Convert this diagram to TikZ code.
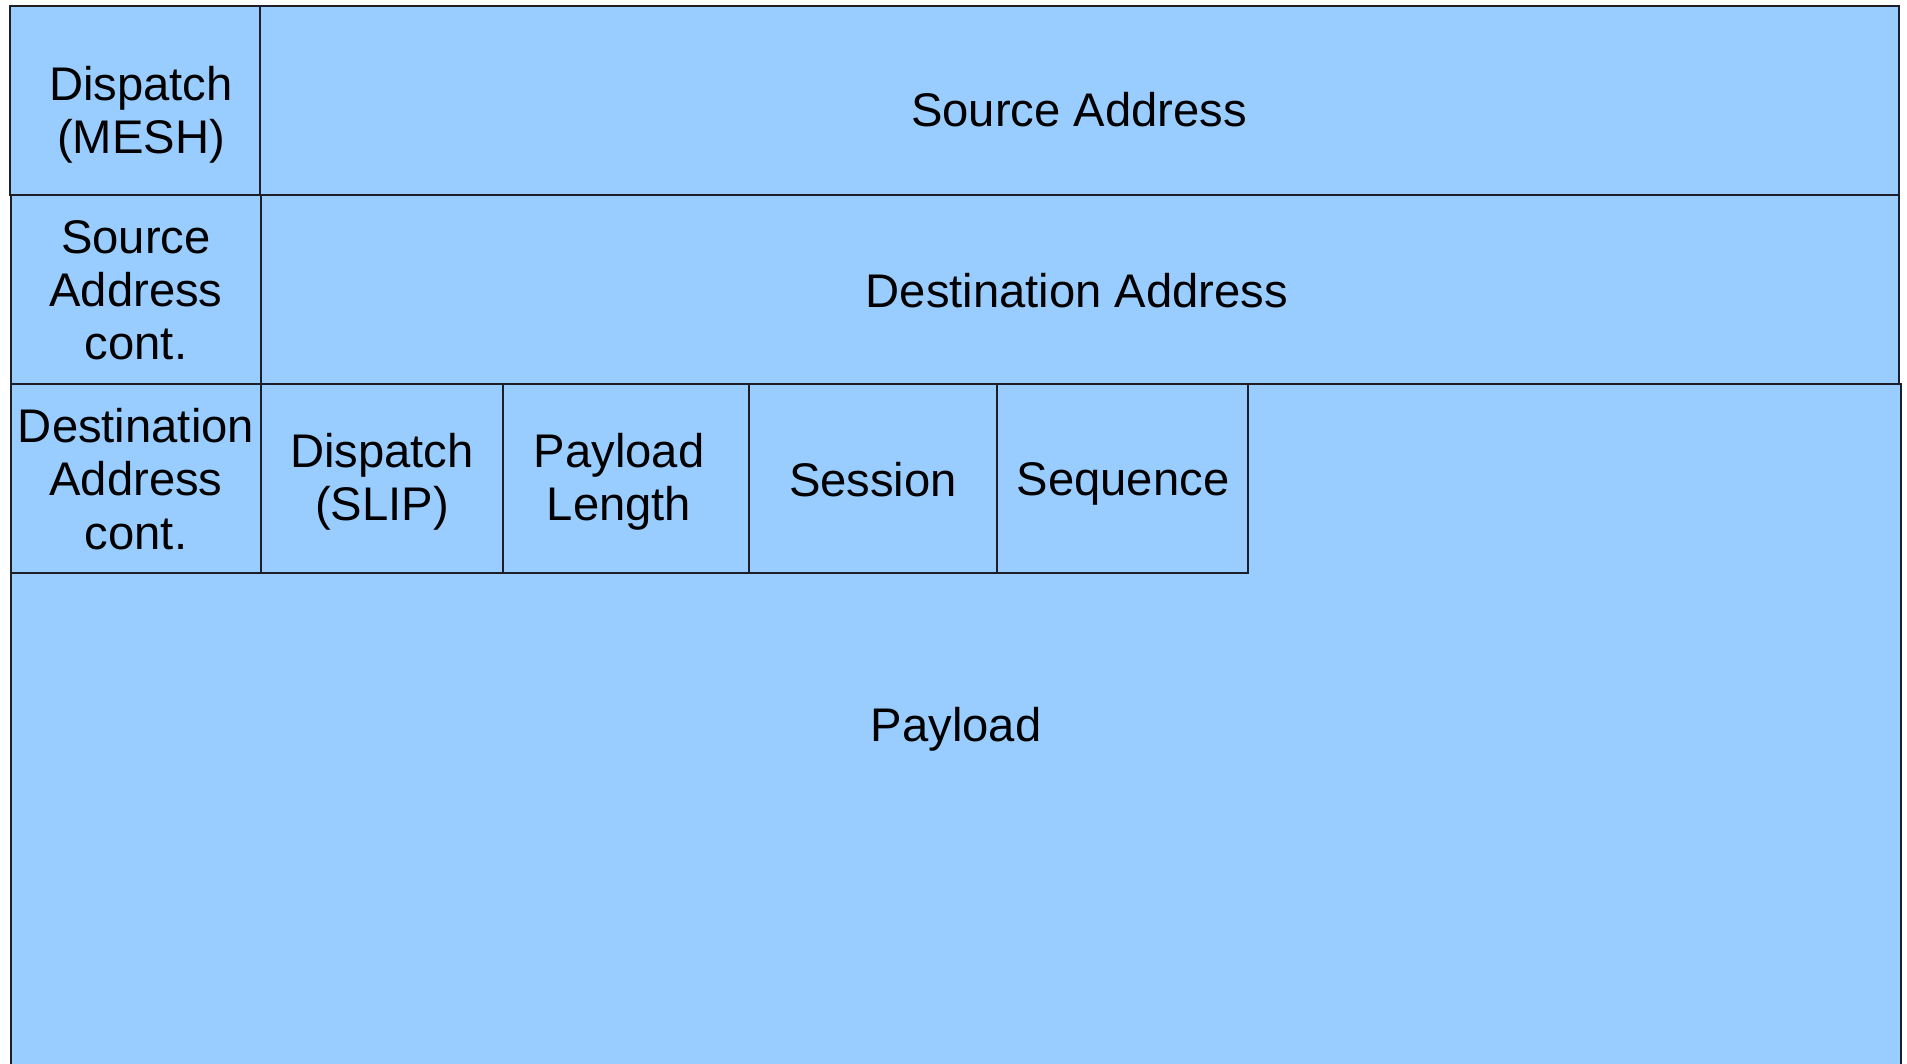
\documentclass[tikz,border=0pt]{standalone}
\usepackage{fontspec}
\setmainfont{Liberation Sans}
\definecolor{cellblue}{RGB}{153,204,255}
\definecolor{edge}{RGB}{30,30,40}
\begin{document}
\begin{tikzpicture}[x=0.5pt,y=-0.5pt,
  box/.style={draw=edge,fill=cellblue,line width=0.7pt,anchor=north west,inner sep=0pt,outer sep=0pt},
  txt/.style={align=center,inner sep=0pt,font=\fontsize{23.6pt}{26.6pt}\selectfont}]
\useasboundingbox (0,0) rectangle (1907,1064);
\clip (0,0) rectangle (1907,1064);
% payload (extends below the page)
\node[box,minimum width=945pt,minimum height=348pt] (payload) at (11,384) {};
% row 1
\node[box,minimum width=125pt,minimum height=94.5pt] (mesh) at (10,6) {};
\node[box,minimum width=819.5pt,minimum height=94.5pt] (src) at (260,6) {};
% row 2
\node[box,minimum width=125pt,minimum height=94.5pt] (srcc) at (11,195) {};
\node[box,minimum width=819pt,minimum height=94.5pt] (dst) at (261,195) {};
% row 3
\node[box,minimum width=125pt,minimum height=94.5pt] (dstc) at (11,384) {};
\node[box,minimum width=121pt,minimum height=94.5pt] (slip) at (261,384) {};
\node[box,minimum width=123pt,minimum height=94.5pt] (plen) at (503,384) {};
\node[box,minimum width=124pt,minimum height=94.5pt] (sess) at (749,384) {};
\node[box,minimum width=125.5pt,minimum height=94.5pt] (seq) at (997,384) {};
% texts
\node[txt] (tmesh) at (141,115) {Dispatch\\(MESH)};
\node[txt] (tsrc) at (1079,110) {Source Address};
\node[txt] (tsrcc) at (136,290) {Source\\Address\\cont.};
\node[txt] (tdst) at (1077,291) {Destination Address};
\node[txt] (tdstc) at (136,479) {Destination\\Address\\cont.};
\node[txt] (tslip) at (382,482) {Dispatch\\(SLIP)};
\node[txt] (tplen) at (619,482) {Payload\\Length};
\node[txt] (tsess) at (873,480) {Session};
\node[txt] (tseq) at (1123,484) {Sequence};
\node[txt] (tpay) at (956,729) {Payload};
\end{tikzpicture}
\end{document}
